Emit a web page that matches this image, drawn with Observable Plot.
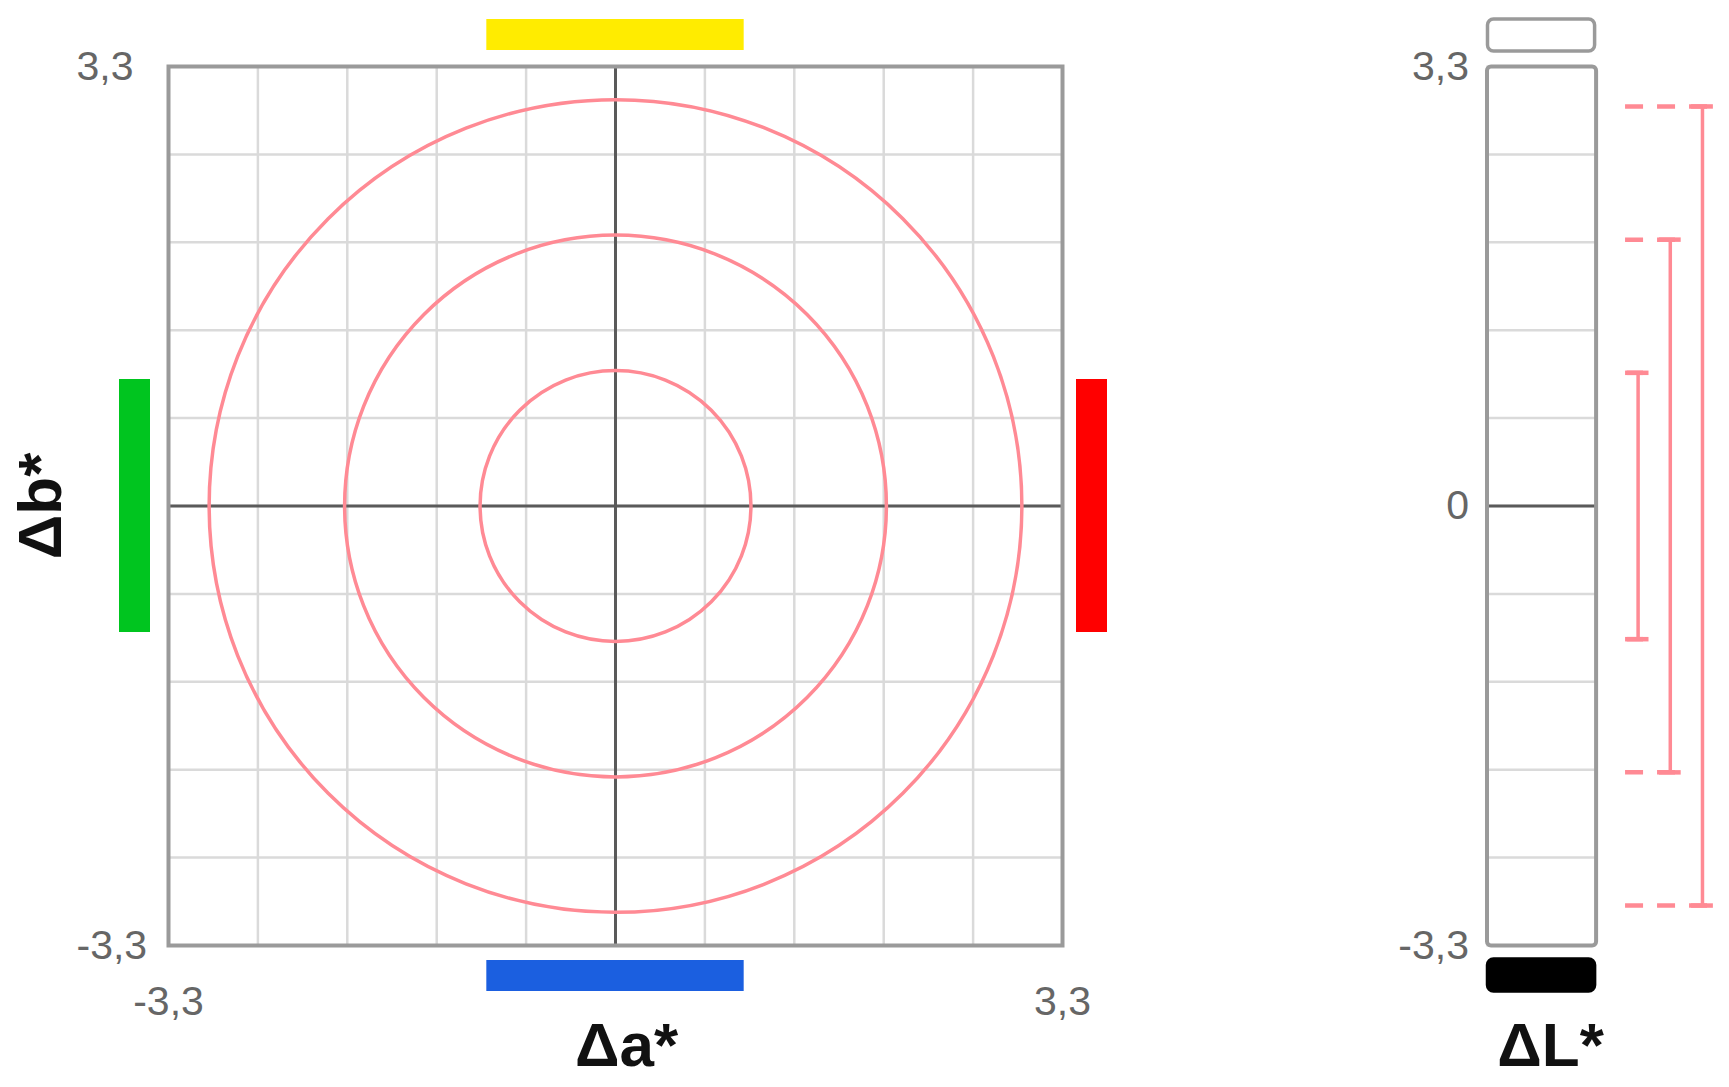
<!DOCTYPE html>
<html>
<head>
<meta charset="utf-8">
<script src="https://cdn.jsdelivr.net/npm/d3@7"></script>
<script src="https://cdn.jsdelivr.net/npm/@observablehq/plot@0.6"></script>
<style>
  html, body { margin: 0; padding: 0; background: #fff; }
  #chart { position: relative; width: 1729px; height: 1087px; overflow: hidden; }
  #chart svg { position: absolute; top: 0; overflow: visible; }
</style>
</head>
<body>
<div id="chart"></div>
<script>
// ---- data ----
const axisDomain = [-3.3, 3.3];
const gridTicks = [-3.3, -2.64, -1.98, -1.32, -0.66, 0, 0.66, 1.32, 1.98, 2.64, 3.3];
const abTickValues = [-3.3, 3.3];
const abTickLabels = ["-3,3", "3,3"];
const lTickValues = [-3.3, 0, 3.3];
const lTickLabels = ["-3,3", "0", "3,3"];
const toleranceRadii = [1, 2, 3];
const hueSides = ["top", "bottom", "left", "right"];
const hueColors = ["#ffec00", "#1b5fe0", "#00c51f", "#ff0000"];
const hueExtent = 0.95;
const lightnessSides = ["top", "bottom"];
const lightnessFills = ["#ffffff", "#000000"];
const axisTitles = ["Δa*", "Δb*", "ΔL*"];

// ---- styles ----
const FONT = "'Liberation Sans', Arial, sans-serif";
const RING = "#ff8a94";
const GRID = "#dadada";
const ZERO = "#5a5a5a";
const FRAME = "#9a9a9a";
const TICKC = "#666";

const chart = document.getElementById("chart");

// ---- main Δa*/Δb* plot ----
const W1 = 1150, H = 1087;
const m1 = {left: 168, right: 88, top: 66, bottom: 142};
const halfW = (W1 - m1.left - m1.right) / 2;

const hues = hueSides.map((side, i) => ({side, color: hueColors[i]}));
const hueH = hues.filter(d => d.side === "top" || d.side === "bottom");
const hueV = hues.filter(d => d.side === "left" || d.side === "right");
const barOffset = {top: -32, bottom: 30, left: -34, right: 29};

const p1 = Plot.plot({
  width: W1, height: H,
  marginLeft: m1.left, marginRight: m1.right, marginTop: m1.top, marginBottom: m1.bottom,
  x: {domain: axisDomain, axis: null},
  y: {domain: axisDomain, axis: null},
  r: {type: "linear", domain: [0, axisDomain[1]], range: [0, halfW]},
  style: {fontFamily: FONT, background: "transparent", overflow: "visible"},
  marks: [
    Plot.gridX(gridTicks, {stroke: GRID, strokeOpacity: 1, strokeWidth: 2.5}),
    Plot.gridY(gridTicks, {stroke: GRID, strokeOpacity: 1, strokeWidth: 2.5}),
    Plot.ruleX([0], {stroke: ZERO, strokeWidth: 3}),
    Plot.ruleY([0], {stroke: ZERO, strokeWidth: 3}),
    Plot.dot(toleranceRadii, {x: () => 0, y: () => 0, r: d => d, stroke: RING, strokeWidth: 3.5, fill: "none"}),
    Plot.frame({stroke: FRAME, strokeWidth: 4}),
    // colour direction bars
    ...hueH.map(d => Plot.ruleY([d.side === "top" ? axisDomain[1] : axisDomain[0]], {
      x1: -hueExtent, x2: hueExtent, stroke: d.color, strokeWidth: 31, dy: barOffset[d.side]
    })),
    ...hueV.map(d => Plot.ruleX([d.side === "left" ? axisDomain[0] : axisDomain[1]], {
      y1: -hueExtent, y2: hueExtent, stroke: d.color, strokeWidth: 31, dx: barOffset[d.side]
    })),
    // tick labels
    Plot.text(abTickValues, {y: d => d, text: (d, i) => abTickLabels[i], frameAnchor: "left",
      textAnchor: "start", lineAnchor: "middle", dx: -92, fontSize: 41, fill: TICKC}),
    Plot.text(abTickValues, {x: d => d, text: (d, i) => abTickLabels[i], frameAnchor: "bottom",
      textAnchor: "middle", lineAnchor: "middle", dy: 56, fontSize: 41, fill: TICKC}),
    // axis titles
    Plot.text([axisTitles[0]], {text: d => d, frameAnchor: "bottom", textAnchor: "middle", lineAnchor: "middle",
      dx: 11, dy: 101, fontSize: 62, fontWeight: "bold", fill: "#111"}),
    Plot.text([axisTitles[1]], {text: d => d, frameAnchor: "left", textAnchor: "middle", lineAnchor: "middle",
      dx: -127, rotate: -90, fontSize: 62, fontWeight: "bold", fill: "#111"})
  ]
});
p1.style.left = "0px";
chart.appendChild(p1);

// ---- ΔL* bar ----
const X2 = 1150, W2 = 1729 - X2;
const m2 = {left: 1486.5 - X2, right: W2 - (1595.6 - X2), top: 66, bottom: 142};
const ebX = r => 1.09 + 0.295 * r;   // horizontal placement of each tolerance bar
const capHalf = 0.1;
const dashStart = 1.27;
const caps = toleranceRadii.flatMap(r => [{r, y: r}, {r, y: -r}]);
const lightness = lightnessSides.map((side, i) => ({side, fill: lightnessFills[i]}));

const p2 = Plot.plot({
  width: W2, height: H,
  marginLeft: m2.left, marginRight: m2.right, marginTop: m2.top, marginBottom: m2.bottom,
  x: {domain: [0, 1], axis: null},
  y: {domain: axisDomain, axis: null},
  style: {fontFamily: FONT, background: "transparent", overflow: "visible"},
  marks: [
    Plot.gridY(gridTicks, {stroke: GRID, strokeOpacity: 1, strokeWidth: 2.5}),
    Plot.ruleY([0], {stroke: ZERO, strokeWidth: 3}),
    Plot.frame({stroke: FRAME, strokeWidth: 4, rx: 4}),
    // lightness indicator boxes
    ...lightness.map(d => Plot.rect([d.side === "top" ? axisDomain[1] : axisDomain[0]], {
      x1: () => 0, x2: () => 1, y1: v => v, y2: v => v,
      insetTop: -16, insetBottom: -16, insetLeft: 1, insetRight: 1,
      dy: d.side === "top" ? -31 : 30,
      fill: d.fill, stroke: d.side === "top" ? FRAME : "#000", strokeWidth: 3.5, rx: 6
    })),
    // tolerance bars
    Plot.ruleY(caps, {y: "y", x1: () => dashStart, x2: d => ebX(d.r) + capHalf,
      stroke: RING, strokeWidth: 4.5, strokeDasharray: "18,14"}),
    Plot.ruleY(caps, {y: "y", x1: d => ebX(d.r) - capHalf, x2: d => ebX(d.r) + capHalf,
      stroke: RING, strokeWidth: 4.5}),
    Plot.ruleX(toleranceRadii, {x: d => ebX(d), y1: d => -d, y2: d => d, stroke: RING, strokeWidth: 3.5}),
    // tick labels
    Plot.text(lTickValues, {y: d => d, text: (d, i) => lTickLabels[i], frameAnchor: "left",
      textAnchor: "end", lineAnchor: "middle", dx: -18, fontSize: 41, fill: TICKC}),
    // title
    Plot.text([axisTitles[2]], {text: d => d, frameAnchor: "bottom", textAnchor: "middle", lineAnchor: "middle",
      dx: 9, dy: 101, fontSize: 62, fontWeight: "bold", fill: "#111"})
  ]
});
p2.style.left = X2 + "px";
chart.appendChild(p2);
</script>
</body>
</html>
